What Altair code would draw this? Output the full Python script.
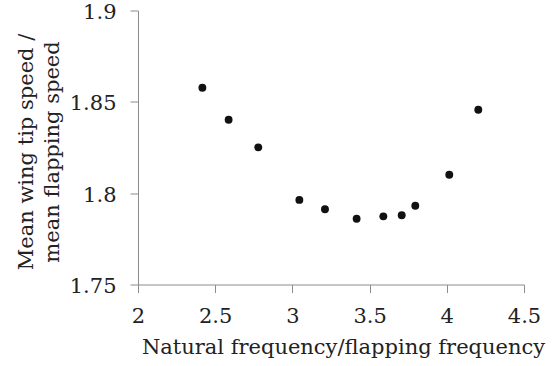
import altair as alt
import pandas as pd

ratio = [2.417, 2.587, 2.779, 3.045, 3.211, 3.416, 3.589, 3.708, 3.796, 4.016, 4.204]
speed = [1.8577, 1.8402, 1.8251, 1.7963, 1.7912, 1.7860, 1.7873, 1.7879, 1.7931, 1.8101, 1.8457]
x_ticks = [2, 2.5, 3, 3.5, 4, 4.5]
y_ticks = [1.75, 1.8, 1.85, 1.9]

df = pd.DataFrame({"ratio": ratio, "speed": speed})

FONT = "DejaVu Serif"
AX = "#8c8c8c"

chart = alt.Chart(df).mark_circle(color="#111111", opacity=1, size=62).encode(
    x=alt.X("ratio:Q", scale=alt.Scale(domain=[2, 4.5], nice=False, zero=False),
            axis=alt.Axis(values=x_ticks, title="Natural frequency/flapping frequency",
                          grid=False, domainColor=AX, tickColor=AX, tickSize=8,
                          labelPadding=13, labelFont=FONT, labelFontSize=21, labelColor="#222",
                          titleFont=FONT, titleFontSize=21, titleFontWeight="normal",
                          titleColor="#222", titleX=205, titleY=69, titleBaseline="alphabetic",
                          titleAlign="center", labelFlush=False, format="~g")),
    y=alt.Y("speed:Q", scale=alt.Scale(domain=[1.75, 1.9], nice=False, zero=False),
            axis=alt.Axis(values=y_ticks, title=["Mean wing tip speed /", "mean flapping speed"],
                          grid=False, domainColor=AX, tickColor=AX, tickSize=8,
                          labelPadding=14, labelFont=FONT, labelFontSize=21, labelColor="#222",
                          labelOffset=2,
                          titleFont=FONT, titleFontSize=21, titleFontWeight="normal",
                          titleColor="#222", titleX=-112, titleY=141, titleAngle=-90,
                          titleBaseline="middle", titleAlign="center", titleLineHeight=26,
                          labelFlush=False, format="~g")),
).properties(
    width=386, height=274,
    autosize=alt.AutoSizeParams(type="none"),
    padding={"left": 138, "top": 10.5, "right": 36, "bottom": 81.5},
    background="white",
).configure_view(stroke=None)

chart.save("out.html", embed_options={"renderer": "svg", "actions": False})
